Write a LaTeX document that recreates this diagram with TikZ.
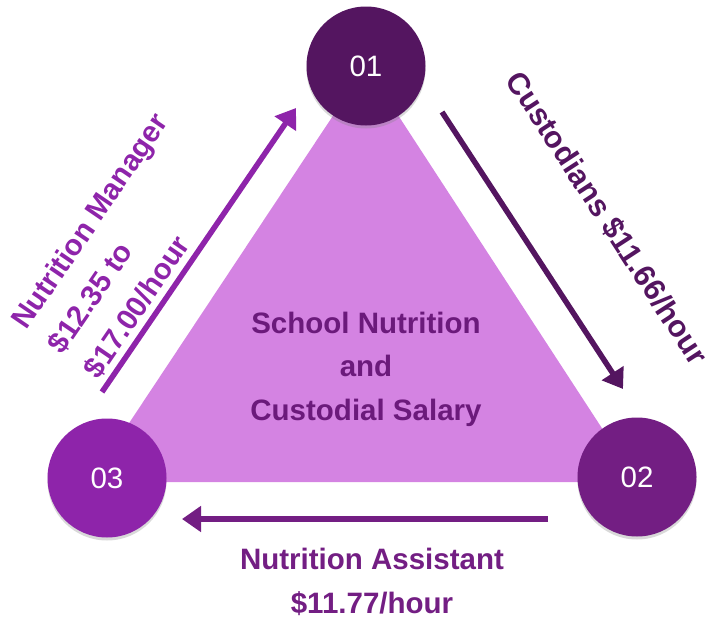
\documentclass[tikz,border=0pt]{standalone}
\usepackage{fontspec}
\setmainfont{Liberation Sans}
\usetikzlibrary{arrows.meta,shadows}
\definecolor{plumdark}{HTML}{541560}
\definecolor{plummid}{HTML}{731E83}
\definecolor{plumlight}{HTML}{8E24AA}
\definecolor{plumtext}{HTML}{6B1A7B}
\definecolor{lilac}{HTML}{D483E2}

\begin{document}
\begin{tikzpicture}[x=1pt,y=-1pt,
        stage/.style={circle,minimum size=119pt,inner sep=0pt,text=white,
            font=\fontsize{29.5}{29.5}\selectfont,
            drop shadow={shadow xshift=0pt,shadow yshift=-3pt,opacity=.3}},
        flow/.style={line width=5.5pt,-{Triangle[length=19pt,width=25pt]}},
        lbl/.style={font=\fontsize{29.5}{43.5}\selectfont\bfseries,align=center,
            inner sep=0pt}]
\useasboundingbox (0,0) rectangle (707,621);
% the triangle
\fill[lilac] (366,66) -- (637,482) -- (90,482) -- cycle;
\node[lbl,text=plumtext] (title) at (366,369) {School Nutrition\\and\\Custodial Salary};

\node[stage,fill=plumdark]  (n1) at (366,66)  {01};
\node[stage,fill=plummid]   (n2) at (637,477) {02};
\node[stage,fill=plumlight] (n3) at (107,478) {03};

% arrows between the stages
\coordinate (mgrA) at (102,392); \coordinate (mgrB) at (296,108);
\coordinate (cusA) at (442,112); \coordinate (cusB) at (623,389);
\coordinate (astA) at (548,519); \coordinate (astB) at (182,519);
\draw[flow,plumlight] (mgrA) -- (mgrB);
\draw[flow,plumdark]  (cusA) -- (cusB);
\draw[flow,plummid]   (astA) -- (astB);

\node[lbl,text=plumlight,rotate=55.7,align=left,anchor=north west] (mgr) at (9,319)
    {Nutrition Manager\\\$12.35 to\\\$17.00/hour};
\node[lbl,text=plumdark,rotate=-56.9,font=\fontsize{30.5}{43}\selectfont\bfseries]
    (cus) at (607,218) {Custodians \$11.66/hour};
\node[lbl,text=plummid] (ast) at (372,582) {Nutrition Assistant\\\$11.77/hour};
\end{tikzpicture}
\end{document}
